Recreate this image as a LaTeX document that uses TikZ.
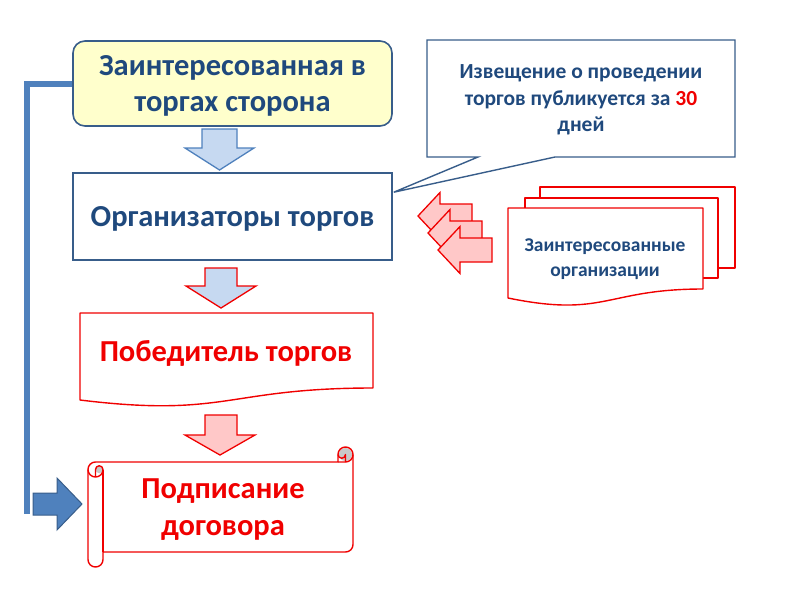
\documentclass[tikz,border=0pt]{standalone}
\usepackage{fontspec}
\setmainfont{Carlito}
\usetikzlibrary{calc}
\definecolor{tblue}{HTML}{1F497D}
\definecolor{bord}{HTML}{385D8A}
\definecolor{accblue}{HTML}{4F81BD}
\definecolor{lblue}{HTML}{C6D9F1}
\definecolor{rred}{HTML}{F00000}
\definecolor{pinkf}{HTML}{FFC8C8}
\definecolor{lyel}{HTML}{FFFFCC}
\definecolor{curl}{HTML}{C8C8C8}
\tikzset{
  bigblue/.style={text=tblue, font=\bfseries\fontsize{30.5}{36}\selectfont, align=center},
  bigred/.style={text=rred, font=\bfseries\fontsize{30.5}{37}\selectfont, align=center},
  callouttext/.style={text=tblue, font=\bfseries\fontsize{21.5}{26.5}\selectfont, align=center},
  smallblue/.style={text=tblue, font=\bfseries\fontsize{19.5}{25}\selectfont, align=center},
  boxline/.style={draw=bord, line width=1.6pt},
  redline/.style={draw=rred, line width=1.4pt, line join=round},
  bluearrow/.style={draw=accblue, line width=1.3pt, fill=lblue, line join=miter},
  redarrowblue/.style={draw=rred, line width=1.3pt, fill=lblue, line join=miter},
  redarrowpink/.style={draw=rred, line width=1.3pt, fill=pinkf, line join=miter},
  conn/.style={draw=accblue, line width=6pt},
  solidarrow/.style={draw=bord, line width=1pt, fill=accblue},
}
\begin{document}
\begin{tikzpicture}[x=1pt,y=-1pt]
\useasboundingbox (0,0) rectangle (800,600);

% top box
\node[boxline, fill=lyel, rounded corners=12pt, minimum width=319pt, minimum height=85pt] (party) at (232.5,83.5) {};
\node[bigblue] (partytext) at (232.5,85.5) {Заинтересованная в\\торгах сторона};

% organizers
\node[boxline, fill=white, minimum width=319pt, minimum height=87pt] (org) at (232.5,216.5) {};
\node[bigblue] (orgtext) at (232.5,218.5) {Организаторы торгов};

% arrow 1
\path[bluearrow] (202,129) -- (237,129) -- (237,148) -- (254,148) -- (219.5,170)
   -- (185,148) -- (202,148) -- cycle;

% arrow 2
\path[redarrowblue] (205,268) -- (237,268) -- (237,286) -- (256,286) -- (221,308)
   -- (186,286) -- (205,286) -- cycle;

% winner document shape
\path[redline, fill=white] (80,313) -- (373,313) -- (373,388)
   .. controls (226.5,388) and (226.5,418) .. (80,400) -- cycle;
\node[bigred] (winner) at (226,353) {Победитель торгов};

% arrow 3
\path[redarrowpink] (205,415) -- (237,415) -- (237,435) -- (255,435) -- (220,455)
   -- (185,435) -- (205,435) -- cycle;

% scroll
\path[fill=white] (353,454.5) arc[start angle=0,end angle=90,radius=7.5]
   -- (345.5,454.5) arc[start angle=0,end angle=180,radius=3.75]
   -- (338,462) -- (95.5,462) arc[start angle=270,end angle=180,radius=7.5]
   -- (88,559.5) arc[start angle=180,end angle=0,radius=7.5]
   -- (103,552) -- (345.5,552) arc[start angle=90,end angle=0,radius=7.5] -- cycle;
\fill[curl] (345.5,454.5) circle[radius=6.5];
\fill[curl] (99.25,469.5) circle[radius=3.75];
\path[redline] (88,469.5) arc[start angle=180,end angle=270,radius=7.5]
   -- (338,462) -- (338,454.5) arc[start angle=180,end angle=360,radius=7.5]
   -- (353,544.5) arc[start angle=0,end angle=90,radius=7.5]
   -- (103,552) -- (103,559.5) arc[start angle=0,end angle=180,radius=7.5] -- cycle;
\path[redline] (338,462) -- (345.5,462) arc[start angle=90,end angle=0,radius=7.5];
\path[redline] (345.5,462) -- (345.5,454.5) arc[start angle=0,end angle=180,radius=3.75];
\path[redline] (95.5,477) -- (95.5,469.5) arc[start angle=180,end angle=360,radius=3.75]
   arc[start angle=0,end angle=180,radius=7.5];
\path[redline] (103,469.5) -- (103,552);
\node[bigred] (sign) at (223,510) {Подписание\\договора};

% blue connector line and arrow
\coordinate (lineend) at (27,514);
\draw[conn] (party.west) -| (lineend);
\path[solidarrow] (33,493) -- (57,493) -- (57,478) -- (82,504) -- (57,530)
   -- (57,515) -- (33,515) -- cycle;

% callout
\coordinate (tip) at ($(org.north east)+(1,20)$);
\path[draw=bord, line width=1.4pt, fill=white, line join=miter]
   (427,40) -- (735,40) -- (735,157) -- (555,157) -- (tip) -- (478,157) -- (427,157) -- cycle;
\node[callouttext] (notice) at (581,100)
   {Извещение о проведении\\торгов публикуется за \textcolor{rred}{30}\\дней};

% stacked red arrows
\foreach \dx/\dy in {-20/-34, -10/-17, 0/0} {
  \path[redarrowpink, shift={(\dx,\dy)}] (492,238) -- (460,238) -- (460,226.5) -- (438,250)
     -- (460,273.5) -- (460,262) -- (492,262) -- cycle;
}

% multi document
\path[redline, fill=white] (540,187) rectangle (735,268);
\path[redline, fill=white] (525,198) rectangle (718,278);
\path[redline, fill=white] (508,208) -- (703,208) -- (703,289)
   .. controls (605.5,289) and (605.5,318) .. (508,298) -- cycle;
\node[smallblue] (orgs) at (605,259) {Заинтересованные\\организации};

\end{tikzpicture}
\end{document}
